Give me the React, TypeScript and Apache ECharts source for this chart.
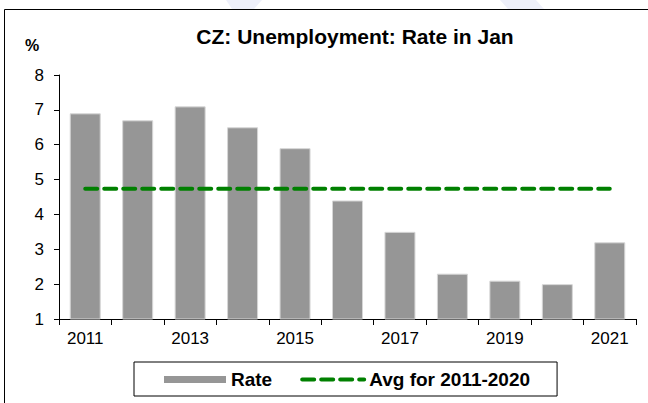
import React, { useEffect, useRef } from "react";
import * as echarts from "echarts";

const years = ["2011", "2012", "2013", "2014", "2015", "2016", "2017", "2018", "2019", "2020", "2021"];
const rate = [6.9, 6.7, 7.1, 6.5, 5.9, 4.4, 3.5, 2.3, 2.1, 2.0, 3.2];
const avgValue = 4.74;
const avg = years.map(() => avgValue);
const yMin = 1;
const yMax = 8;

const FONT = "Liberation Sans, Arial, sans-serif";

export default function App() {
  const ref = useRef<HTMLDivElement>(null);
  useEffect(() => {
    document.body.style.margin = "0";
    if (!ref.current) return;
    const chart = echarts.init(ref.current, undefined, { renderer: "svg" });
    chart.setOption({
      animation: false,
      backgroundColor: "#ffffff",
      title: {
        text: "CZ: Unemployment: Rate in Jan",
        left: 350,
        textAlign: "center",
        top: 21,
        textStyle: { fontFamily: FONT, fontWeight: "bold", fontSize: 21, color: "#000" },
      },
      graphic: [
        {
          type: "polygon",
          shape: { points: [[226, 0], [262, 0], [254, 9], [232, 9]] },
          style: { fill: "#eef0fa" },
          silent: true,
          z: -1,
        },
        {
          type: "polygon",
          shape: { points: [[500, 0], [536, 0], [544, 9], [508, 9]] },
          style: { fill: "#eef0fa" },
          silent: true,
          z: -1,
        },
        {
          type: "rect",
          shape: { x: 4.5, y: 9.5, width: 700, height: 500 },
          style: { fill: "none", stroke: "#000", lineWidth: 1 },
          silent: true,
        },
        {
          type: "text",
          x: 25,
          y: 37,
          style: { text: "%", font: `bold 16px ${FONT}`, fill: "#000" },
        },
      ],
      legend: {
        left: 134,
        top: 362,
        data: [
          { name: "Rate", icon: "rect", itemStyle: { borderWidth: 0 } },
          {
            name: "Avg for 2011-2020",
            itemStyle: { opacity: 0, color: "rgba(0,0,0,0)", borderWidth: 0 },
            lineStyle: { width: 4, color: "#008000", type: [12, 7], cap: "round" },
          },
        ],
        borderColor: "#000",
        borderWidth: 1,
        padding: [8, 27, 7, 30],
        itemGap: 28,
        itemWidth: 62,
        itemHeight: 7,
        textStyle: { fontFamily: FONT, fontWeight: "bold", fontSize: 19, color: "#000" },
      },
      grid: { left: 59, right: 12, top: 75, bottom: 84 },
      xAxis: {
        type: "category",
        data: years,
        axisLine: { lineStyle: { color: "#000", width: 1 } },
        axisTick: { show: true, length: 6, interval: 0, lineStyle: { color: "#000" } },
        axisLabel: { interval: 1, fontFamily: FONT, fontSize: 17, color: "#000", margin: 11 },
      },
      yAxis: {
        type: "value",
        min: yMin,
        max: yMax,
        interval: 1,
        axisLine: { show: true, lineStyle: { color: "#000", width: 1 } },
        axisTick: { show: true, length: 5, lineStyle: { color: "#000" } },
        splitLine: { show: false },
        axisLabel: { fontFamily: FONT, fontSize: 17, color: "#000", margin: 15 },
      },
      series: [
        {
          name: "Rate",
          type: "bar",
          data: rate,
          barWidth: 31,
          itemStyle: { color: "#969696", borderColor: "#d6d6d6", borderWidth: 1 },
        },
        {
          name: "Avg for 2011-2020",
          type: "line",
          data: avg,
          symbol: "none",
          lineStyle: { color: "#008000", width: 4, type: [12, 7], cap: "round" },
          itemStyle: { color: "#008000" },
        },
      ],
    });
    return () => chart.dispose();
  }, []);
  return <div ref={ref} style={{ width: 648, height: 403 }} />;
}
